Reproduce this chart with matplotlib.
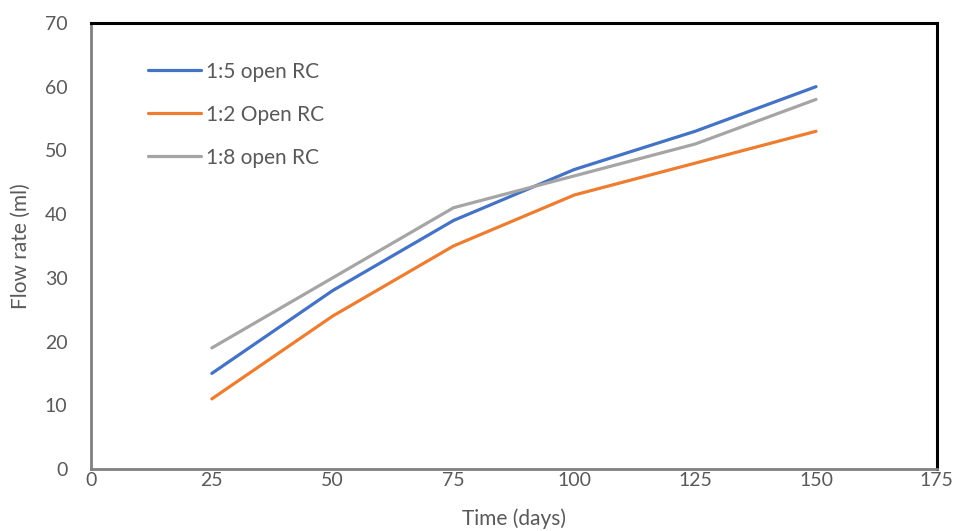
import matplotlib.pyplot as plt

# values
days = [25, 50, 75, 100, 125, 150]
ratio_1_5 = [15, 28, 39, 47, 53, 60]
ratio_1_2 = [11, 24, 35, 43, 48, 53]
ratio_1_8 = [19, 30, 41, 46, 51, 58]

labels = ["1:5 open RC", "1:2 Open RC", "1:8 open RC"]
colors = ["#4472C4", "#ED7D31", "#A5A5A5"]

plt.rcParams['font.family'] = ['Lato', 'DejaVu Sans']
text_color = "#595959"

fig = plt.figure(figsize=(9.56, 5.31), dpi=100)
ax = fig.add_axes([0.0952, 0.1168, 0.8848, 0.84])

for series, lab, col in zip([ratio_1_5, ratio_1_2, ratio_1_8], labels, colors):
    ax.plot(days, series, color=col, linewidth=2.3, label=lab, solid_capstyle="round")

ax.set_xlim(0, 175)
ax.set_ylim(0, 70)
ax.set_xticks(range(0, 176, 25))
ax.set_yticks(range(0, 71, 10))
ax.tick_params(length=0, labelsize=14, colors=text_color)
ax.tick_params(axis="y", pad=17)
ax.tick_params(axis="x", pad=2)

# left/bottom axis lines grey, top/right border black
for side in ["left", "bottom"]:
    ax.spines[side].set_color("#808080")
    ax.spines[side].set_linewidth(2)
for side in ["top", "right"]:
    ax.spines[side].set_color("black")
    ax.spines[side].set_linewidth(2.2)

ax.set_xlabel("Time (days)", fontsize=15, color=text_color, labelpad=14)
ax.set_ylabel("Flow rate (ml)", fontsize=15, color=text_color, labelpad=10)

ax.legend(loc="upper left", bbox_to_anchor=(0.045, 0.955), frameon=False,
          fontsize=15, handlelength=2.55, handletextpad=0.25, labelspacing=1.1,
          labelcolor=text_color)

fig.savefig("out.png", dpi=100)
